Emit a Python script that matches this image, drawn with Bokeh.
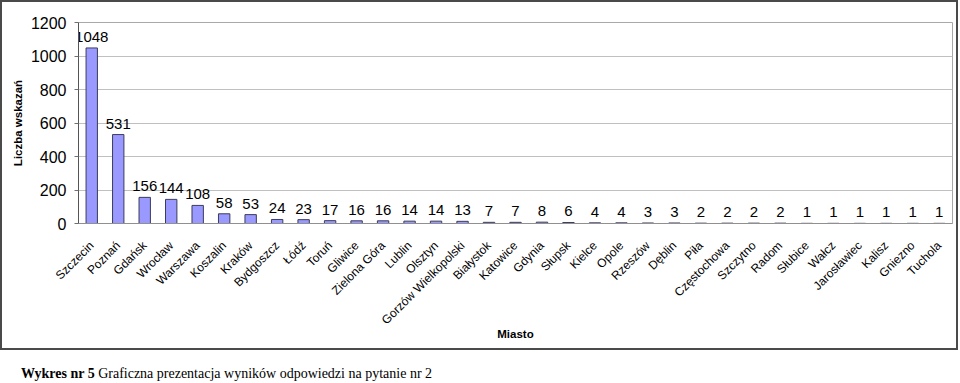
import math
from bokeh.plotting import figure
from bokeh.models import ColumnDataSource, Range1d, FactorRange, Div, FixedTicker
from bokeh.layouts import column
from bokeh.embed import file_html
from bokeh.resources import INLINE
from bokeh.core.properties import value

cities = ["Szczecin", "Poznań", "Gdańsk", "Wrocław", "Warszawa", "Koszalin", "Kraków",
          "Bydgoszcz", "Łódź", "Toruń", "Gliwice", "Zielona Góra", "Lublin", "Olsztyn",
          "Gorzów Wielkopolski", "Białystok", "Katowice", "Gdynia", "Słupsk", "Kielce",
          "Opole", "Rzeszów", "Dęblin", "Piła", "Częstochowa", "Szczytno", "Radom",
          "Słubice", "Wałcz", "Jarosławiec", "Kalisz", "Gniezno", "Tuchola"]
counts = [1048, 531, 156, 144, 108, 58, 53, 24, 23, 17, 16, 16, 14, 14, 13, 7, 7, 8, 6,
          4, 4, 3, 3, 2, 2, 2, 2, 1, 1, 1, 1, 1, 1]
y_ticks = [0, 200, 400, 600, 800, 1000, 1200]
y_title = "Liczba wskazań"
x_title = "Miasto"
caption_bold = "Wykres nr 5"
caption_rest = "Graficzna prezentacja wyników odpowiedzi na pytanie nr 2"

src = ColumnDataSource(dict(city=cities, count=counts, label=[str(c) for c in counts]))

p = figure(width=958, height=350,
           x_range=FactorRange(*cities, range_padding=0),
           y_range=Range1d(0, 1200),
           output_backend="svg", toolbar_location=None,
           min_border_left=78, min_border_right=6,
           min_border_top=22, min_border_bottom=127)
# transparent canvas so the host's inset frame (chart-area border) shows through
p.background_fill_color = None
p.border_fill_color = None
p.styles = {"background-color": "white", "box-shadow": "inset 0 0 0 2px #4a4a4a"}
p.outline_line_color = "#a8a8a8"
p.outline_line_width = 1

p.vbar(x="city", top="count", width=0.43, source=src,
       fill_color="#9999FF", line_color="#3c3c5c", line_width=1)
p.text(x="city", y="count", text="label", source=src,
       text_align="center", text_baseline="bottom", y_offset=-6,
       text_font=value("Liberation Sans"), text_font_size="15px", text_color="black")

# axes
p.xaxis.major_label_orientation = math.pi / 4
p.xaxis.major_label_text_font = "Liberation Sans"
p.xaxis.major_label_text_font_size = "12px"
p.xaxis.major_label_text_color = "black"
p.xaxis.major_label_standoff = 14
p.xaxis.major_tick_line_color = None
p.xaxis.minor_tick_line_color = None
p.xaxis.axis_line_color = "#909090"
p.xaxis.axis_label = x_title
p.xaxis.axis_label_text_font = "Liberation Sans"
p.xaxis.axis_label_text_font_style = "bold"
p.xaxis.axis_label_text_font_size = "11.5px"
p.xaxis.axis_label_text_color = "black"
p.xaxis.axis_label_standoff = -7

p.yaxis.ticker = FixedTicker(ticks=y_ticks)
p.yaxis.major_label_text_font = "Liberation Sans"
p.yaxis.major_label_text_font_size = "16px"
p.yaxis.major_label_text_color = "black"
p.yaxis.major_label_standoff = 8
p.yaxis.minor_tick_line_color = None
p.yaxis.major_tick_out = 4
p.yaxis.major_tick_in = 0
p.yaxis.major_tick_line_color = "#707070"
p.yaxis.axis_line_color = "#555555"
p.yaxis.axis_label = y_title
p.yaxis.axis_label_text_font = "Liberation Sans"
p.yaxis.axis_label_text_font_style = "bold"
p.yaxis.axis_label_text_font_size = "11.5px"
p.yaxis.axis_label_text_color = "black"
p.yaxis.axis_label_standoff = 4

p.xgrid.grid_line_color = None
p.ygrid.ticker = FixedTicker(ticks=y_ticks)
p.ygrid.grid_line_color = "#c0c0c0"
p.ygrid.grid_line_width = 1

cap = Div(text=('<div style="font-family:\'Liberation Serif\';font-size:14px;color:black;'
                'padding:16px 0 0 21px;white-space:nowrap;line-height:16px;"><b>' + caption_bold + '</b> '
                + caption_rest + '</div>'),
          width=958, height=33, margin=(0, 0, 0, 0))

layout = column(p, cap, spacing=0)
open("out.html", "w").write(file_html(layout, INLINE))
